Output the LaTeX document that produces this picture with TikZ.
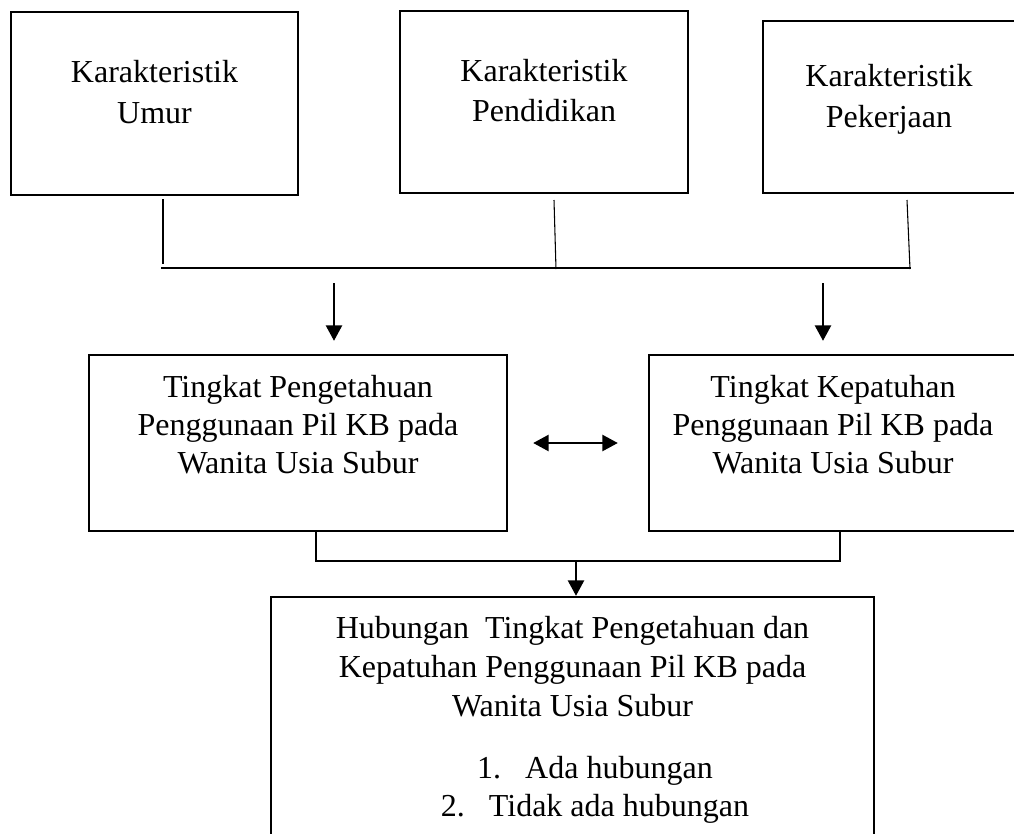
\documentclass[tikz,border=0pt]{standalone}
\usepackage{fontspec}
\setmainfont{Liberation Serif}
\usetikzlibrary{arrows.meta}
\begin{document}
\begin{tikzpicture}[x=0.75pt,y=-0.75pt,
  box/.style={draw, line width=1.8pt, inner sep=0pt},
  txt/.style={font=\fontsize{24}{29}\selectfont, inner sep=0pt, anchor=base},
  conn/.style={line width=1.6pt},
  thin/.style={line width=0.8pt},
  arr/.style={line width=1.6pt, -{Triangle[length=11.5pt,width=12pt]}},
  darr/.style={line width=1.6pt, {Triangle[length=11.5pt,width=12pt]}-{Triangle[length=11.5pt,width=12pt]}}
]
\useasboundingbox (0,0) rectangle (1014,833);
\clip (0,0) rectangle (1014,833);

% top boxes
\node[box, minimum width=215.25pt, minimum height=137.25pt] (b1) at (154.5,103.5) {};
\node[box, minimum width=216pt, minimum height=136.5pt] (b2) at (544,102) {};
\node[box, minimum width=189.75pt, minimum height=129pt] (b3) at (889.5,107) {};
\node[txt] (b1l1) at (154.5,82) {Karakteristik};
\node[txt] (b1l2) at (154.5,123) {Umur};
\node[txt] (b2l1) at (544,81) {Karakteristik};
\node[txt] (b2l2) at (544,121) {Pendidikan};
\node[txt] (b3l1) at (889,86) {Karakteristik};
\node[txt] (b3l2) at (889,127) {Pekerjaan};

% middle boxes
\node[box, minimum width=313.5pt, minimum height=132pt] (m1) at (298,443) {};
\node[box, minimum width=276.75pt, minimum height=132pt] (m2) at (833.5,443) {};
\node[txt] (m1l1) at (298,397) {Tingkat Pengetahuan};
\node[txt] (m1l2) at (298,435) {Penggunaan Pil KB pada};
\node[txt] (m1l3) at (298,473) {Wanita Usia Subur};
\node[txt] (m2l1) at (833,397) {Tingkat Kepatuhan};
\node[txt] (m2l2) at (833,435) {Penggunaan Pil KB pada};
\node[txt] (m2l3) at (833,473) {Wanita Usia Subur};

% bottom box
\node[box, minimum width=452.25pt, minimum height=197.25pt] (bot) at (572.5,728.5) {};
\node[txt] (bl1) at (572.5,638) {Hubungan\ \ Tingkat Pengetahuan dan};
\node[txt] (bl2) at (572.5,677) {Kepatuhan Penggunaan Pil KB pada};
\node[txt] (bl3) at (572.5,716) {Wanita Usia Subur};
\node[txt] (bl4) at (595,778) {1.\hspace{18pt}Ada hubungan};
\node[txt] (bl5) at (595,816) {2.\hspace{18pt}Tidak ada hubungan};

% top connectors
\coordinate (t1a) at (163,199);
\coordinate (t1b) at (163,264);
\coordinate (t2a) at (554,200);
\coordinate (t2b) at (556,269);
\coordinate (t3a) at (907,200);
\coordinate (t3b) at (910,269);
\coordinate (hL) at (161,268);
\coordinate (hR) at (911,268);
\draw[conn] (t1a) -- (t1b);
\draw[thin] (t2a) -- (t2b);
\draw[thin] (t3a) -- (t3b);
\draw[conn] (hL) -- (hR);

% arrows into middle boxes
\coordinate (a1s) at (334,283);
\coordinate (a2s) at (823,283);
\draw[arr, shorten >=9.75pt] (a1s) -- (m1.north -| a1s);
\draw[arr, shorten >=9.75pt] (a2s) -- (m2.north -| a2s);

% double arrow
\draw[darr, shorten <=18.75pt, shorten >=22.5pt] (m1.east) -- (m2.west);

% bottom connectors
\coordinate (jL) at (316,561);
\coordinate (jR) at (840,561);
\coordinate (jM) at (576,561);
\draw[conn] (m1.south -| jL) -- (jL) -- (jR) -- (m2.south -| jR);
\draw[arr] (jM) -- (bot.north -| jM);
\end{tikzpicture}
\end{document}
